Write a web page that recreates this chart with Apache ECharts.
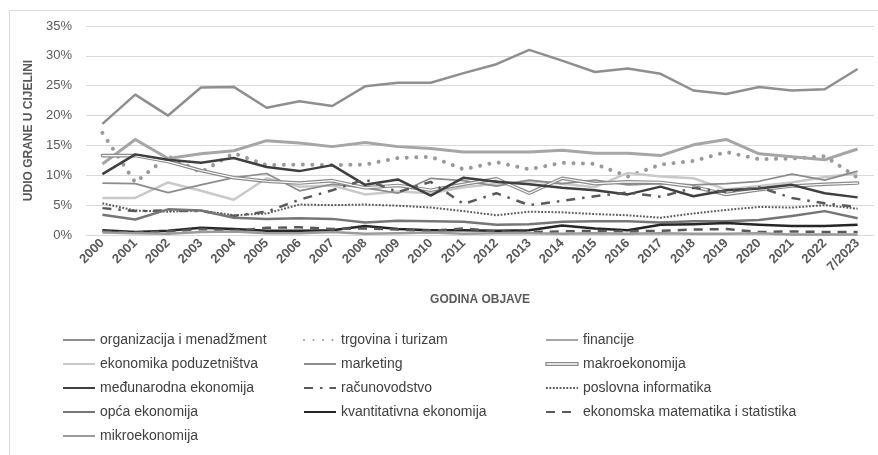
<!DOCTYPE html>
<html>
<head>
<meta charset="utf-8">
<script src="https://cdn.jsdelivr.net/npm/echarts@6/dist/echarts.min.js"></script>
<style>
  html, body { margin: 0; padding: 0; background: #fff; }
  #udio { width: 878px; height: 455px; }
</style>
</head>
<body>
<div id="udio"></div>
<script>
// godine objave (x os)
var godine = ['2000','2001','2002','2003','2004','2005','2006','2007','2008','2009','2010','2011',
  '2012','2013','2014','2015','2016','2017','2018','2019','2020','2021','2022','7/2023'];
var yTicks = [0, 5, 10, 15, 20, 25, 30, 35];

// udio grane u cjelini, u %
var organizacija = [18.6, 23.5, 20.0, 24.7, 24.8, 21.3, 22.4, 21.6, 24.9, 25.5, 25.5, 27.1, 28.6, 31.0, 29.2, 27.3, 27.9, 27.0, 24.2, 23.6, 24.8, 24.2, 24.4, 27.8];
var trgovina = [17.1, 8.8, 13.2, 10.5, 13.7, 11.7, 11.8, 11.7, 11.8, 12.9, 13.1, 11.0, 12.2, 11.0, 12.1, 11.9, 9.8, 11.8, 12.4, 13.9, 12.7, 12.8, 13.2, 9.6];
var financije = [11.9, 16.0, 12.8, 13.6, 14.1, 15.8, 15.4, 14.8, 15.5, 14.8, 14.5, 13.9, 13.9, 13.9, 14.2, 13.7, 13.7, 13.3, 15.1, 16.0, 13.6, 13.1, 12.6, 14.4];
var poduzetnistvo = [6.2, 6.2, 8.8, 7.4, 5.9, 9.5, 8.1, 8.3, 6.8, 7.3, 7.0, 8.0, 8.6, 9.0, 8.6, 8.0, 10.4, 9.8, 9.5, 7.6, 8.2, 8.8, 9.7, 10.3];
var marketing = [8.7, 8.6, 7.1, 8.4, 9.6, 10.3, 7.4, 8.5, 7.9, 7.0, 9.5, 9.1, 8.2, 9.2, 8.6, 9.2, 8.4, 8.6, 8.4, 8.6, 9.0, 10.2, 9.2, 10.7];
var makro = [13.3, 13.3, 12.3, 10.8, 9.6, 9.0, 8.7, 9.1, 7.9, 8.3, 7.5, 8.5, 9.4, 7.0, 9.5, 8.6, 8.9, 8.8, 8.1, 6.8, 7.6, 8.2, 8.5, 8.7];
var medjunarodna = [10.2, 13.5, 12.6, 12.1, 12.9, 11.4, 10.7, 11.7, 8.4, 9.3, 6.6, 9.6, 8.9, 8.5, 7.9, 7.5, 6.8, 8.1, 6.5, 7.5, 7.8, 8.4, 7.0, 6.3];
var racunovodstvo = [4.5, 4.0, 4.1, 4.0, 3.2, 3.9, 5.9, 7.5, 9.3, 7.2, 8.9, 5.2, 7.0, 5.0, 5.7, 6.5, 7.1, 6.4, 7.9, 7.2, 8.0, 6.2, 5.3, 4.7];
var informatika = [5.3, 4.1, 3.9, 4.1, 3.3, 3.6, 5.1, 5.0, 5.1, 4.9, 4.6, 4.0, 3.3, 3.9, 3.8, 3.5, 3.3, 2.9, 3.6, 4.2, 4.7, 4.6, 5.0, 4.4];
var opca = [3.4, 2.6, 4.3, 4.1, 2.9, 2.7, 2.8, 2.7, 2.1, 2.4, 2.3, 2.2, 1.7, 1.8, 2.2, 2.3, 2.3, 2.1, 2.3, 2.3, 2.5, 3.2, 4.0, 2.8];
var kvantitativna = [0.8, 0.5, 0.7, 1.2, 1.0, 0.7, 0.7, 0.8, 1.5, 1.0, 0.8, 0.8, 0.7, 0.8, 1.6, 1.1, 0.8, 1.7, 1.8, 2.0, 1.7, 1.5, 1.5, 1.7];
var matematika = [0.6, 0.4, 0.6, 1.0, 0.7, 1.2, 1.3, 1.0, 1.1, 0.9, 0.7, 1.1, 0.6, 0.5, 0.6, 0.7, 0.6, 0.7, 0.9, 1.0, 0.5, 0.6, 0.5, 0.5];
var mikro = [0.4, 0.3, 0.2, 0.5, 0.6, 0.3, 0.3, 0.5, 0.2, 0.3, 0.4, 0.2, 0.3, 0.3, 0.2, 0.3, 0.2, 0.3, 0.2, 0.2, 0.3, 0.1, 0.1, 0.1];

var font = '"Liberation Sans", Arial, sans-serif';

// jedna linija
function linija(name, data, color, width, type, cap) {
  return {
    name: name,
    type: 'line',
    data: data,
    symbol: 'none',
    itemStyle: { color: color },
    lineStyle: { color: color, width: width, type: type || 'solid', cap: cap || 'butt', join: 'round' },
    emphasis: { disabled: true }
  };
}

var legendaBase = {
  orient: 'vertical',
  top: 333,
  padding: 0,
  itemWidth: 32,
  itemHeight: 10,
  itemGap: 10,
  selectedMode: false,
  itemStyle: { opacity: 0 },
  textStyle: { fontSize: 14, color: '#404040', fontFamily: font }
};

var myChart = echarts.init(document.getElementById('udio'));
var option = {
  animation: false,
  backgroundColor: '#fff',
  graphic: [{
    type: 'rect',
    shape: { x: 9.5, y: 10.5, width: 900, height: 500 },
    style: { fill: 'none', stroke: '#d9d9d9', lineWidth: 1 },
    silent: true
  }],
  grid: { left: 86, right: 4, top: 26, bottom: 220 },
  legend: [
    echarts.util.merge({ left: 62, data: ['organizacija i menadžment', 'ekonomika poduzetništva', 'međunarodna ekonomija', 'opća ekonomija', 'mikroekonomija'] }, legendaBase),
    echarts.util.merge({ left: 303, data: ['trgovina i turizam', 'marketing', 'računovodstvo', 'kvantitativna ekonomija'] }, legendaBase),
    echarts.util.merge({ left: 545, data: ['financije',
      { name: 'makroekonomija', icon: 'path://M0,0H100V9H0Z', itemStyle: { opacity: 1, color: '#fff', borderColor: '#8a8a8a', borderWidth: 1.3 } },
      'poslovna informatika', 'ekonomska matematika i statistika'] }, legendaBase)
  ],
  xAxis: {
    type: 'category',
    data: godine,
    boundaryGap: true,
    axisLine: { lineStyle: { color: '#d9d9d9' } },
    axisTick: { show: false },
    axisLabel: { rotate: 45, interval: 0, margin: 6, fontSize: 13, fontWeight: 'bold', color: '#595959', fontFamily: font },
    name: 'GODINA OBJAVE',
    nameLocation: 'middle',
    nameGap: 59,
    nameTextStyle: { fontSize: 12, fontWeight: 'bold', color: '#595959', fontFamily: font }
  },
  yAxis: {
    type: 'value',
    min: yTicks[0],
    max: yTicks[yTicks.length - 1],
    interval: 5,
    axisLine: { show: false },
    axisTick: { show: false },
    splitLine: { lineStyle: { color: '#d9d9d9' } },
    axisLabel: { formatter: '{value}%', fontSize: 13, color: '#595959', margin: 14, fontFamily: font },
    name: 'UDIO GRANE U CIJELINI',
    nameLocation: 'middle',
    nameGap: 38,
    nameRotate: 90,
    nameTextStyle: { fontSize: 12, fontWeight: 'bold', color: '#595959', fontFamily: font }
  },
  series: [
    linija('organizacija i menadžment', organizacija, '#8f8f8f', 2.5),
    linija('trgovina i turizam', trgovina, '#9a9a9a', 4, [0.01, 9.5], 'round'),
    linija('financije', financije, '#a6a6a6', 3),
    linija('ekonomika poduzetništva', poduzetnistvo, '#c9c9c9', 2.5),
    linija('marketing', marketing, '#8c8c8c', 1.75),
    linija('makroekonomija', makro, '#8a8a8a', 3.6, 'solid', 'round'),
    linija('makro_unutra', makro, '#ffffff', 1.2, 'solid', 'round'),
    linija('međunarodna ekonomija', medjunarodna, '#3f3f3f', 2.5),
    linija('računovodstvo', racunovodstvo, '#5a5a5a', 2.5, [9, 7, 2.5, 7]),
    linija('poslovna informatika', informatika, '#595959', 2, [1.8, 1.6]),
    linija('opća ekonomija', opca, '#767676', 2.5),
    linija('kvantitativna ekonomija', kvantitativna, '#262626', 2.5),
    linija('ekonomska matematika i statistika', matematika, '#595959', 2.5, [9, 7]),
    linija('mikroekonomija', mikro, '#9b9b9b', 2.5)
  ]
};
myChart.setOption(option);
</script>
</body>
</html>
